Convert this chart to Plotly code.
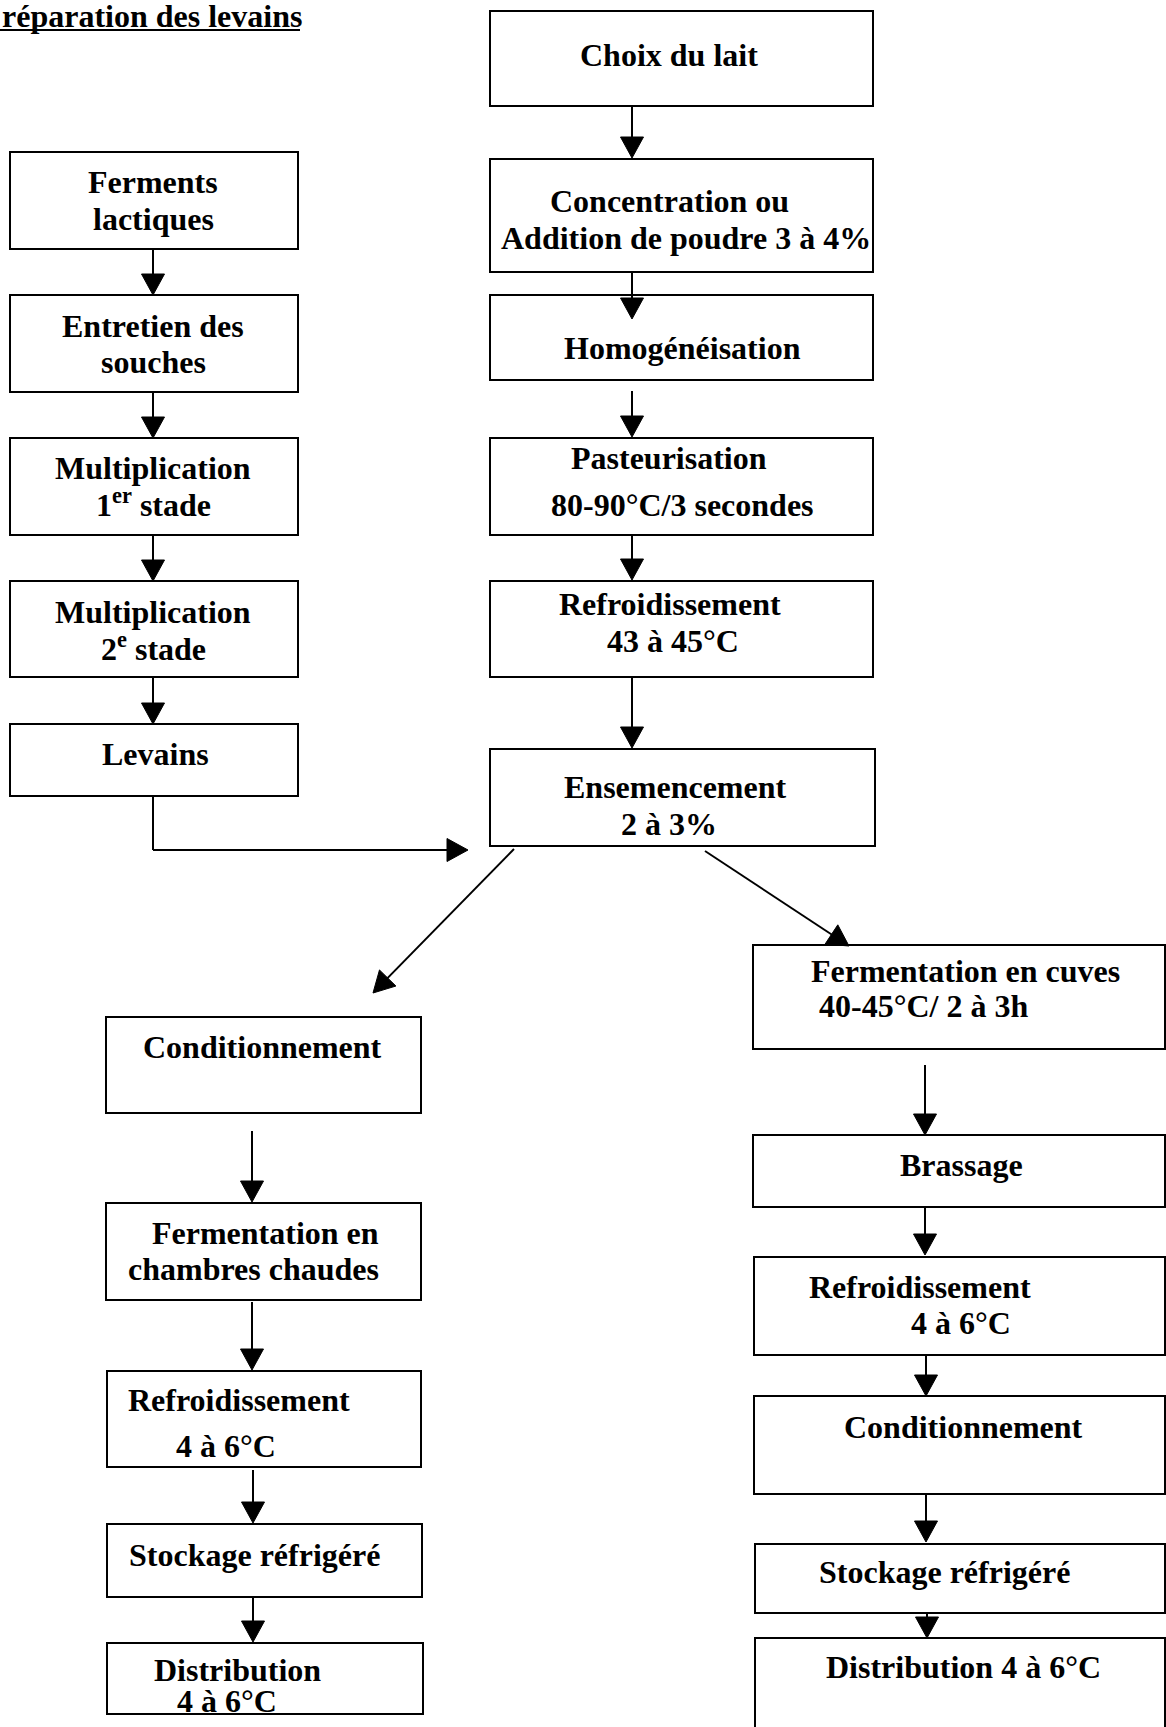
import math
import plotly.graph_objects as go

W, H = 1166, 1727

# ---------------- content ----------------
title_text = "réparation des levains"

# boxes: (x0, y0, x1, y1) in page pixels (y downward)
boxes_left = [(10, 152, 298, 249), (10, 295, 298, 392), (10, 438, 298, 535),
              (10, 581, 298, 677), (10, 724, 298, 796)]
boxes_center = [(490, 11, 873, 106), (490, 159, 873, 272), (490, 295, 873, 380),
                (490, 438, 873, 535), (490, 581, 873, 677), (490, 749, 875, 846)]
boxes_bottom_left = [(106, 1017, 421, 1113), (106, 1203, 421, 1300), (107, 1371, 421, 1467),
                     (107, 1524, 422, 1597), (107, 1643, 423, 1714)]
boxes_bottom_right = [(753, 945, 1165, 1049), (753, 1135, 1165, 1207), (754, 1257, 1165, 1355),
                      (754, 1396, 1165, 1494), (755, 1544, 1165, 1613), (755, 1638, 1165, 1760)]

# text lines: (text, x_center, y_center)
labels_left = [("Ferments", 153, 182), ("lactiques", 153, 219),
               ("Entretien des", 153, 326), ("souches", 153, 362),
               ("Multiplication", 153, 468), ("1<sup>er</sup> stade", 153, 503),
               ("Multiplication", 153, 612), ("2<sup>e</sup> stade", 153, 647),
               ("Levains", 155, 754)]
labels_center = [("Choix du lait", 669, 55),
                 ("Concentration ou", 669, 201), ("Addition de poudre 3 à 4%", 686, 238),
                 ("Homogénéisation", 682, 348),
                 ("Pasteurisation", 669, 458), ("80-90°C/3 secondes", 682, 505),
                 ("Refroidissement", 670, 604), ("43 à 45°C", 673, 641),
                 ("Ensemencement", 675, 787), ("2 à 3%", 669, 824)]
labels_bottom_left = [("Conditionnement", 262, 1047),
                      ("Fermentation en", 265, 1233), ("chambres chaudes", 253, 1269),
                      ("Refroidissement", 239, 1400), ("4 à 6°C", 226, 1446),
                      ("Stockage réfrigéré", 254, 1555),
                      ("Distribution", 237, 1670), ("4 à 6°C", 227, 1701)]
labels_bottom_right = [("Fermentation en cuves", 965, 971), ("40-45°C/ 2 à 3h", 923, 1006),
                       ("Brassage", 961, 1165),
                       ("Refroidissement", 920, 1287), ("4 à 6°C", 961, 1323),
                       ("Conditionnement", 963, 1427),
                       ("Stockage réfrigéré", 944, 1572),
                       ("Distribution 4 à 6°C", 963, 1667)]

# arrows: (x_start, y_start, x_tip, y_tip)
arrows = [
    (153, 249, 153, 295), (153, 392, 153, 438), (153, 535, 153, 581), (153, 677, 153, 724),
    (153, 850, 468, 850),
    (632, 107, 632, 158), (632, 272, 632, 319), (632, 391, 632, 437),
    (632, 535, 632, 580), (632, 677, 632, 748),
    (514, 849, 373, 993), (705, 851, 849, 946),
    (252, 1131, 252, 1202), (252, 1302, 252, 1370), (253, 1470, 253, 1523), (253, 1598, 253, 1642),
    (925, 1065, 925, 1135), (925, 1207, 925, 1255), (926, 1355, 926, 1396),
    (926, 1494, 926, 1542), (927, 1613, 927, 1638),
]
# plain connector segments (no head)
plain_lines = [(153, 796, 153, 850)]

# ---------------- drawing ----------------
FONT = "Liberation Serif, Times New Roman, serif"
FS = 32
LW = 2
HEAD_L, HEAD_W = 21, 23

fig = go.Figure()
shapes = []
for group in (boxes_left, boxes_center, boxes_bottom_left, boxes_bottom_right):
    for (x0, y0, x1, y1) in group:
        shapes.append(dict(type="rect", xref="x", yref="y", x0=x0, y0=y0, x1=x1, y1=y1,
                           line=dict(color="black", width=LW), fillcolor="rgba(0,0,0,0)"))

for (x0, y0, x1, y1) in plain_lines:
    shapes.append(dict(type="line", xref="x", yref="y", x0=x0, y0=y0, x1=x1, y1=y1,
                       line=dict(color="black", width=LW)))

for (x0, y0, x1, y1) in arrows:
    dx, dy = x1 - x0, y1 - y0
    L = math.hypot(dx, dy)
    ux, uy = dx / L, dy / L
    px, py = -uy, ux
    bx, by = x1 - HEAD_L * ux, y1 - HEAD_L * uy
    shapes.append(dict(type="line", xref="x", yref="y", x0=x0, y0=y0, x1=bx + 2 * ux, y1=by + 2 * uy,
                       line=dict(color="black", width=LW)))
    c1 = (bx + HEAD_W / 2 * px, by + HEAD_W / 2 * py)
    c2 = (bx - HEAD_W / 2 * px, by - HEAD_W / 2 * py)
    path = f"M {x1},{y1} L {c1[0]:.2f},{c1[1]:.2f} L {c2[0]:.2f},{c2[1]:.2f} Z"
    shapes.append(dict(type="path", xref="x", yref="y", path=path,
                       fillcolor="black", line=dict(color="black", width=1)))

annotations = []
for group in (labels_left, labels_center, labels_bottom_left, labels_bottom_right):
    for (txt, x, y) in group:
        annotations.append(dict(x=x, y=y, xref="x", yref="y", text=f"<b>{txt}</b>",
                                showarrow=False, xanchor="center", yanchor="middle",
                                font=dict(family=FONT, size=FS, color="black")))

annotations.append(dict(x=0, y=16, xref="x", yref="y", text=f"<b>{title_text}</b>",
                        showarrow=False, xanchor="left", yanchor="middle",
                        font=dict(family=FONT, size=FS, color="black")))
shapes.append(dict(type="line", xref="x", yref="y", x0=0, y0=30, x1=300, y1=30,
                   line=dict(color="black", width=2)))

fig.update_layout(
    width=W, height=H,
    margin=dict(l=0, r=0, t=0, b=0),
    paper_bgcolor="white", plot_bgcolor="white",
    xaxis=dict(range=[0, W], visible=False, fixedrange=True),
    yaxis=dict(range=[H, 0], visible=False, fixedrange=True),
    shapes=shapes, annotations=annotations, showlegend=False,
)

fig.write_html("out.html", config={"displayModeBar": False},
               post_script="document.body.style.margin='0';document.body.style.padding='0';")
